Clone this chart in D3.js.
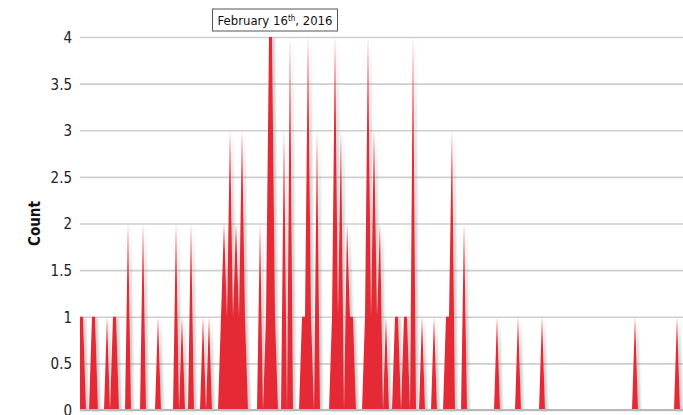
<!DOCTYPE html>
<html>
<head>
<meta charset="utf-8">
<script src="https://cdn.jsdelivr.net/npm/d3@7"></script>
<style>
  body { margin: 0; background: #fff; }
  svg { display: block; }
  text { font-family: "Liberation Sans Narrow", "DejaVu Sans Condensed", "Roboto", sans-serif; }
</style>
</head>
<body>
<div id="chart"></div>
<script>
// 데이터: 2015-12-15 부터 하루 단위 카운트
const startDate = "2015-12-15";
const dailyCounts = [
  1, 1, 0, 0, 1, 1, 0, 0, 0, 1,
  0, 1, 1, 0, 0, 0, 2, 0, 0, 0,
  0, 2, 0, 0, 0, 0, 1, 0, 0, 0,
  0, 0, 2, 0, 1, 0, 0, 2, 0, 0,
  0, 1, 0, 1, 0, 0, 0, 1, 2, 1,
  3, 1, 2, 1, 3, 1, 0, 0, 0, 0,
  2, 0, 1, 4, 4, 1, 0, 0, 3, 0,
  4, 0, 0, 0, 1, 1, 4, 1, 0, 3,
  0, 0, 0, 0, 1, 4, 1, 3, 0, 2,
  1, 1, 0, 0, 0, 1, 4, 1, 3, 1,
  2, 0, 1, 0, 0, 1, 1, 0, 1, 1,
  0, 4, 0, 0, 1, 0, 0, 0, 1, 0,
  0, 0, 1, 1, 3, 0, 0, 0, 2, 0,
  0, 0, 0, 0, 0, 0, 0, 0, 0, 1,
  0, 0, 0, 0, 0, 0, 1, 0, 0, 0,
  0, 0, 0, 0, 1, 0, 0, 0, 0, 0,
  0, 0, 0, 0, 0, 0, 0, 0, 0, 0,
  0, 0, 0, 0, 0, 0, 0, 0, 0, 0,
  0, 0, 0, 0, 0, 1, 0, 0, 0, 0,
  0, 0, 0, 0, 0, 0, 0, 0, 0, 1,
  0
];
const yTicks = [0, 0.5, 1, 1.5, 2, 2.5, 3, 3.5, 4];
const yLabel = "Count";
const markerDate = "2016-02-16";

// 차트 설정
const W = 683, H = 415;
const margin = {top: 37, right: 3, bottom: 5, left: 80};
const plotRight = 680;

const parse = d3.timeParse("%Y-%m-%d");
const start = parse(startDate);
const data = dailyCounts.map((v, i) => ({date: d3.timeDay.offset(start, i), value: v}));

const svg = d3.select("#chart")
    .append("svg")
    .attr("width", W)
    .attr("height", H);

// 그림자 필터
const defs = svg.append("defs");
const shadow = defs.append("filter")
    .attr("id", "shadow")
    .attr("x", "-50%").attr("y", "-10%")
    .attr("width", "200%").attr("height", "120%");
shadow.append("feDropShadow")
    .attr("dx", 2.5).attr("dy", 1)
    .attr("stdDeviation", 1.3)
    .attr("flood-color", "#7a8a8a")
    .attr("flood-opacity", 0.45);

// 스케일
const x = d3.scaleTime()
    .domain(d3.extent(data, d => d.date))
    .range([margin.left, plotRight]);
const y = d3.scaleLinear()
    .domain([0, 4])
    .range([H - margin.bottom, margin.top]);

// 그리드
const yAxis = d3.axisLeft(y)
    .tickValues(yTicks)
    .tickSize(-(W - margin.left))
    .tickPadding(8)
    .tickFormat(d3.format("~g"));

const yAxisGroup = svg.append("g")
    .attr("transform", `translate(${margin.left},0)`)
    .call(yAxis);
yAxisGroup.select(".domain").remove();
yAxisGroup.selectAll(".tick line")
    .attr("stroke", "#cfcfcf")
    .attr("stroke-width", 1.6);
yAxisGroup.selectAll(".tick text")
    .attr("fill", "#222")
    .attr("font-size", 15)
    .attr("dy", "0.36em");

// 영역
const area = d3.area()
    .x(d => x(d.date))
    .y0(y(0))
    .y1(d => y(d.value));

svg.append("path")
    .datum(data)
    .attr("d", area)
    .attr("fill", "#e52a36")
    .attr("filter", "url(#shadow)");

// 기준선
svg.append("line")
    .attr("x1", margin.left).attr("x2", W)
    .attr("y1", y(0)).attr("y2", y(0))
    .attr("stroke", "#b8b8b8")
    .attr("stroke-width", 1.8);

// 축 제목
svg.append("text")
    .attr("transform", `translate(40,${(y(0) + y(4)) / 2}) rotate(-90)`)
    .attr("text-anchor", "middle")
    .attr("font-size", 15)
    .attr("font-weight", "bold")
    .attr("fill", "#111")
    .text(yLabel);

// 날짜 표시 박스
const mx = x(parse(markerDate)) + 6;
const label = svg.append("g").attr("transform", `translate(${mx},20)`);
const box = label.append("rect")
    .attr("fill", "#fff")
    .attr("stroke", "#555")
    .attr("stroke-width", 1);
const t = label.append("text")
    .attr("text-anchor", "middle")
    .attr("dy", "0.35em")
    .attr("font-size", 13)
    .attr("fill", "#111");
t.append("tspan").text("February 16");
t.append("tspan").attr("font-size", 8).attr("dy", "-0.4em").text("th");
t.append("tspan").attr("dy", "0.25em").text(", 2016");
const bb = t.node().getBBox();
box.attr("x", bb.x - 5).attr("y", -11)
    .attr("width", bb.width + 10).attr("height", 22);
</script>
</body>
</html>
